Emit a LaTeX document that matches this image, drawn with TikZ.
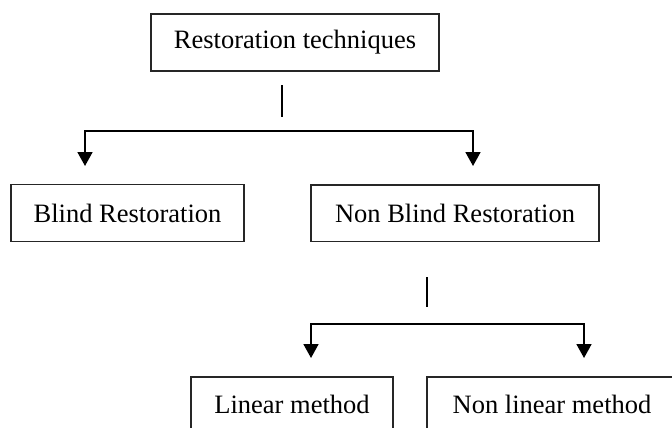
\documentclass[tikz,border=0pt]{standalone}
\usepackage{fontspec}
\setmainfont{Liberation Serif}
\usetikzlibrary{arrows.meta}
\begin{document}
\begin{tikzpicture}[x=1pt,y=-1pt,
  box/.style={draw=black!85, line width=1.3pt, rectangle, inner sep=0pt,
    font=\fontsize{26.5}{30}\selectfont, text=black},
  conn/.style={draw=black, line width=1.8pt},
  tip/.style={-{Triangle[width=15pt,length=14pt]}},
  stub/.style={draw=black, line width=1.1pt}]
\useasboundingbox (0,0) rectangle (672,428);
\fill[white] (0,0) rectangle (672,428);
% boxes
\node[box, minimum width=288pt, minimum height=57pt] (top) at (295,42.5) {Restoration techniques};
\node[box, minimum width=233pt, minimum height=57pt] (blind) at (127.5,213.3) {Blind Restoration};
\node[box, minimum width=288pt, minimum height=56.5pt] (nonblind) at (455,213.2) {Non Blind Restoration};
\node[box, minimum width=202pt, minimum height=54pt] (linear) at (292,404) {Linear method};
\node[box, minimum width=250pt, minimum height=54pt] (nonlinear) at (552,404) {Non linear method};
% first level connectors
\coordinate (s1a) at (282,85);
\coordinate (s1b) at (282,117);
\draw[stub] (s1a) -- (s1b);
\coordinate (b1l) at (85,131);
\coordinate (b1r) at (473,131);
\coordinate (t1l) at (85,166);
\coordinate (t1r) at (473,166);
\draw[conn, tip] (b1r) -- (b1l) -- (t1l);
\draw[conn, tip] (b1l) -- (b1r) -- (t1r);
% second level connectors
\coordinate (s2a) at (427,277);
\coordinate (s2b) at (427,307);
\draw[stub] (s2a) -- (s2b);
\coordinate (b2l) at (311,324);
\coordinate (b2r) at (584,324);
\coordinate (t2l) at (311,358);
\coordinate (t2r) at (584,358);
\draw[conn, tip] (b2r) -- (b2l) -- (t2l);
\draw[conn, tip] (b2l) -- (b2r) -- (t2r);
\end{tikzpicture}
\end{document}
